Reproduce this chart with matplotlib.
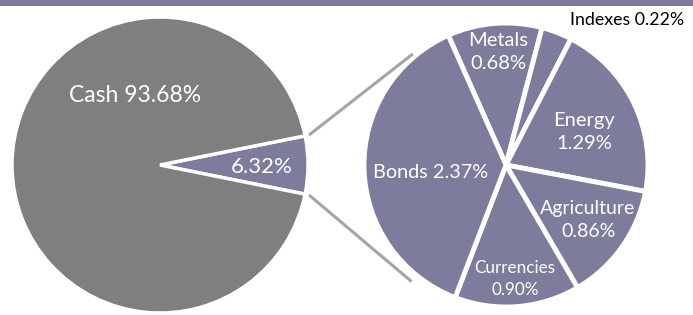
import numpy as np
import matplotlib
matplotlib.use("Agg")
import matplotlib.pyplot as plt

plt.rcParams['font.family'] = ['Lato', 'DejaVu Sans']

# data
main_labels = ['Cash', 'Other']
main_values = [93.68, 6.32]
sub_labels = ['Metals', 'Indexes', 'Energy', 'Agriculture', 'Currencies', 'Bonds']
sub_values = [0.68, 0.22, 1.29, 0.86, 0.90, 2.37]

grey = '#7f7f7f'
purple = '#7e7c9c'
W, H = 693, 315

fig = plt.figure(figsize=(W / 100, H / 100), dpi=100)
ax = fig.add_axes([0, 0, 1, 1])

# band across the top
ax.axhspan(H - 6, H, color=purple, lw=0)

# left pie, small slice centred on the right
c1 = (160, H - 165)
r1 = 148
small_deg = main_values[1] / sum(main_values) * 360
ax.pie([main_values[1], main_values[0]], colors=[purple, grey],
       startangle=-small_deg / 2, center=c1, radius=r1,
       explode=[0.025, 0], wedgeprops=dict(edgecolor='white', linewidth=2.5),
       frame=True)

# right pie
c2 = (506, H - 165)
r2 = 142
ax.pie(sub_values, colors=[purple] * len(sub_values), startangle=114,
       counterclock=False, center=c2, radius=r2,
       wedgeprops=dict(edgecolor='white', linewidth=3.5), frame=True)
ax.set_xlim(0, W)
ax.set_ylim(0, H)
ax.set_aspect('equal')
ax.axis('off')

# connector lines
for a1, a2, rr in [(small_deg / 2, 130, 145), (-small_deg / 2, 231, 150)]:
    p1 = (c1[0] + (r1 + 4) * np.cos(np.radians(a1)),
          c1[1] + (r1 + 4) * np.sin(np.radians(a1)))
    p2 = (c2[0] + rr * np.cos(np.radians(a2)),
          c2[1] + rr * np.sin(np.radians(a2)))
    ax.plot([p1[0], p2[0]], [p1[1], p2[1]], color='#a5a5a5', lw=2.2,
            solid_capstyle='butt')

ax.text(135, H - 96, 'Cash %.2f%%' % main_values[0], color='white',
        fontsize=16.5, ha='center', va='center')
ax.text(262, H - 167, '%.2f%%' % main_values[1], color='white',
        fontsize=16, ha='center', va='center')

sub_pos = {
    'Metals': (498, 52, 'white', 14.5),
    'Indexes': (627, 20, 'black', 12.8),
    'Energy': (584, 132, 'white', 14.5),
    'Agriculture': (588, 220, 'white', 14),
    'Currencies': (515, 279, 'white', 12.3),
    'Bonds': (431, 172, 'white', 14.3),
}
for lab, val in zip(sub_labels, sub_values):
    x, y, col, size = sub_pos[lab]
    sep = ' ' if lab in ('Indexes', 'Bonds') else '\n'
    ax.text(x, H - y, '%s%s%.2f%%' % (lab, sep, val), color=col,
            fontsize=size, ha='center', va='center', linespacing=1.45)

fig.savefig('out.png', dpi=100)
